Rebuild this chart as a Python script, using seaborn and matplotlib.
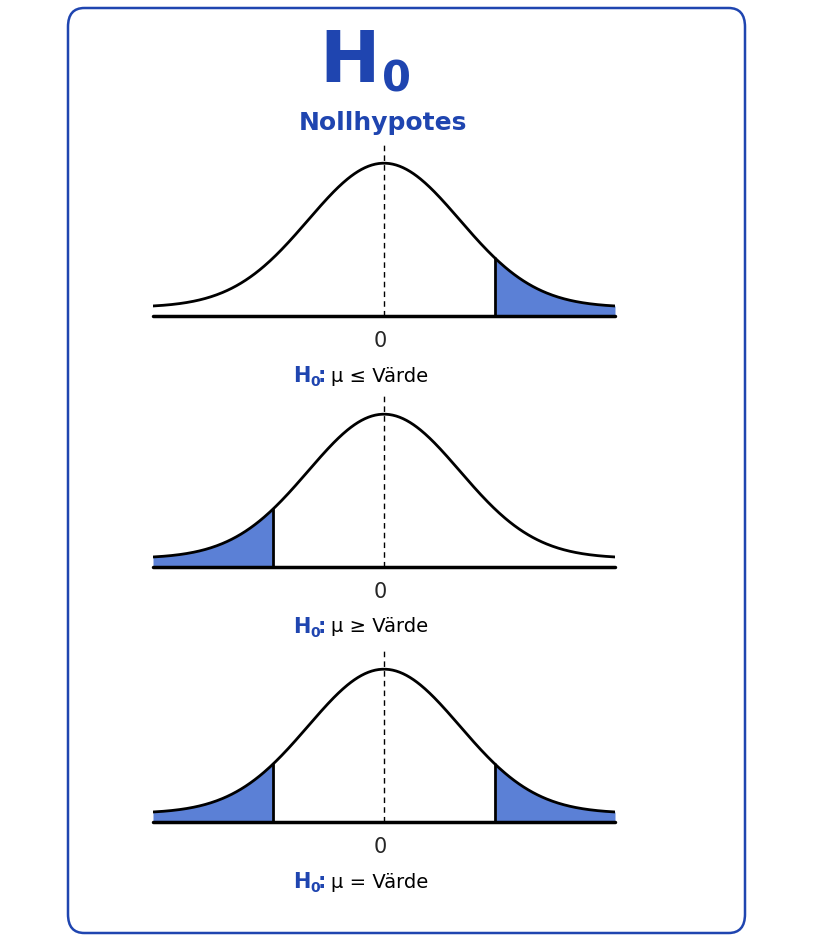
import numpy as np
import pandas as pd
import matplotlib
matplotlib.use("Agg")
import matplotlib.pyplot as plt
import seaborn as sns
from matplotlib.patches import FancyBboxPatch

sns.set_theme(style="white")
plt.rcParams['font.family'] = ['DejaVu Sans']

BLUE = "#1f45b0"
FILL = "#5b80d6"

z = np.linspace(-3.05, 3.05, 400)
offset = 0.06
curve = offset + np.exp(-z**2 / 2)
cut = 1.47
hypotheses = ["≤", "≥", "="]
tails = [["right"], ["left"], ["left", "right"]]
axis_bottoms_px = [316, 567, 822]

W, H = 813, 941
fig = plt.figure(figsize=(W/100, H/100), dpi=100)

border = FancyBboxPatch((68/W, 8/H), (745-68)/W, (933-8)/H,
                        boxstyle="round,pad=0,rounding_size=0.02",
                        transform=fig.transFigure, fill=False,
                        edgecolor=BLUE, linewidth=1.8)
fig.patches.append(border)

fig.text(380/W, 1-62/H, "H", ha="right", va="center", fontsize=52,
         fontweight="bold", color=BLUE)
fig.text(382/W, 1-80/H, "0", ha="left", va="center", fontsize=30,
         fontweight="bold", color=BLUE)
fig.text(383/W, 1-123/H, "Nollhypotes", ha="center", va="center",
         fontsize=18, fontweight="bold", color=BLUE)

df = pd.DataFrame({"z": z, "y": curve})
for sym, tl, bot in zip(hypotheses, tails, axis_bottoms_px):
    hpx = 173
    ax = fig.add_axes([153/W, 1-bot/H, 462/W, hpx/H])
    ax.set_xlim(-3.05, 3.05)
    ax.set_ylim(0, 1.2)
    ax.axis("off")
    for t in tl:
        m = z >= cut if t == "right" else z <= -cut
        ax.fill_between(z[m], 0, curve[m], color=FILL, lw=0)
        xc = cut if t == "right" else -cut
        ax.plot([xc, xc], [0, offset + np.exp(-xc**2/2)], color="black", lw=2)
    sns.lineplot(data=df, x="z", y="y", ax=ax, color="black", lw=2)
    ax.plot([0, 0], [0, 1.2], color="black", lw=1, ls=(0, (4, 3)))
    ax.axhline(0, color="black", lw=2.5, clip_on=False)
    fig.text(380/W, 1-(bot+25)/H, "0", ha="center", va="center", fontsize=15)
    y = 1-(bot+60)/H
    fig.text(310/W, y, "H", ha="right", va="center", fontsize=15,
             fontweight="bold", color=BLUE)
    fig.text(310/W, y-6/H, "0", ha="left", va="center", fontsize=10,
             fontweight="bold", color=BLUE)
    fig.text(318/W, y, ":", ha="left", va="center", fontsize=15,
             fontweight="bold", color=BLUE)
    fig.text(331/W, y, f"μ {sym} Värde", ha="left", va="center", fontsize=14,
             color="black")

fig.savefig("out.png", dpi=100)
